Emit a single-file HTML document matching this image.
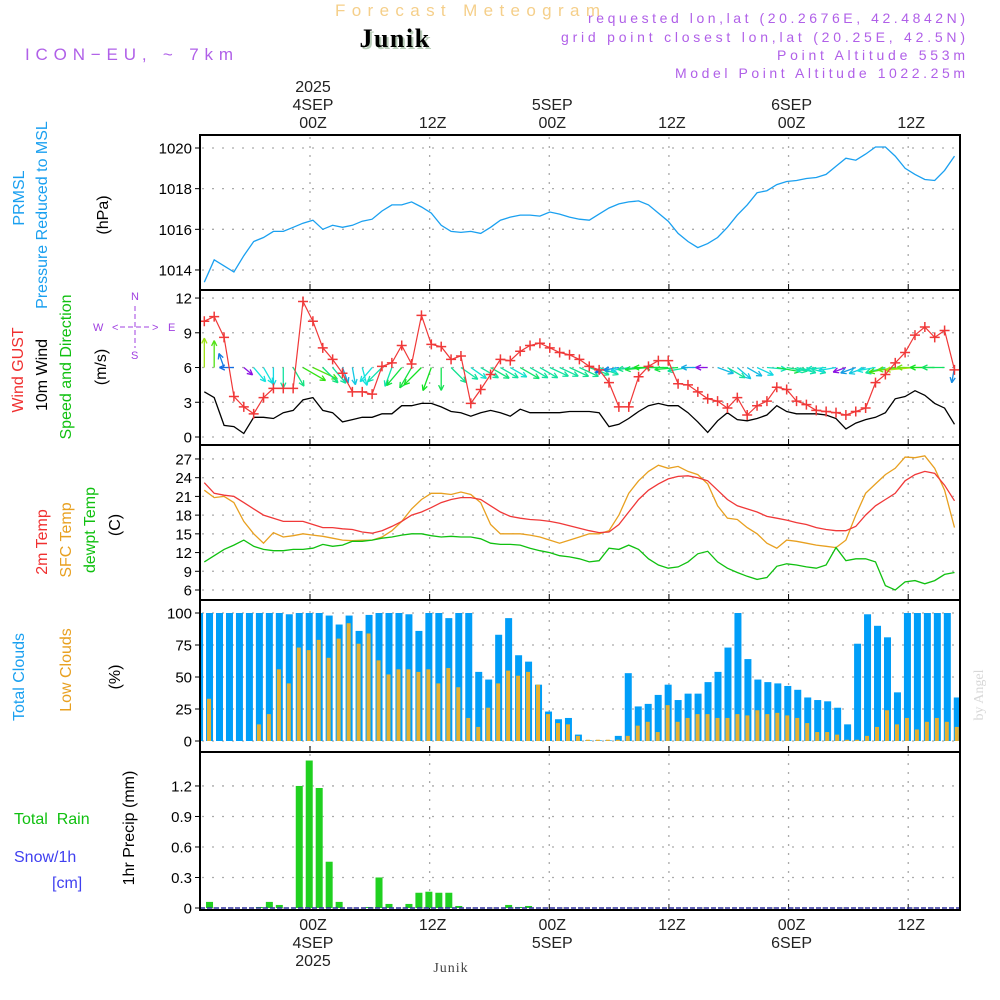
<!DOCTYPE html>
<html><head><meta charset="utf-8"><title>Forecast Meteogram Junik</title>
<style>
html,body{margin:0;padding:0;background:#fff;}
svg{display:block;font-family:"Liberation Sans",sans-serif;}
</style></head>
<body>
<svg id="chart" width="1000" height="1000" viewBox="0 0 1000 1000" xmlns="http://www.w3.org/2000/svg">
<defs><clipPath id="plotclip"><rect x="201" y="136" width="758" height="773"/></clipPath></defs>
<text x="335" y="16" font-size="17" fill="#f5cf8a" textLength="265" lengthAdjust="spacing">Forecast Meteogram</text>
<text x="397" y="49" text-anchor="middle" font-size="26" font-weight="bold" font-family="Liberation Serif, serif" fill="#b9cdb9" letter-spacing="1.5">Junik</text>
<text x="395" y="47" text-anchor="middle" font-size="26" font-weight="bold" font-family="Liberation Serif, serif" fill="#000" letter-spacing="1.5">Junik</text>
<text x="25" y="60" font-size="17" fill="#b060e8" textLength="208" lengthAdjust="spacing">ICON−EU, ~ 7km</text>
<g font-size="14" fill="#b060e8">
<text x="588" y="23" textLength="377" lengthAdjust="spacing">requested lon,lat (20.2676E, 42.4842N)</text>
<text x="561" y="42" textLength="404" lengthAdjust="spacing">grid point closest lon,lat (20.25E, 42.5N)</text>
<text x="777" y="60" textLength="188" lengthAdjust="spacing">Point Altitude 553m</text>
<text x="675" y="78" textLength="290" lengthAdjust="spacing">Model Point Altitude 1022.25m</text>
</g>
<g id="frame"></g>
<g id="grid"></g>
<g id="marks" clip-path="url(#plotclip)"></g>
<g id="axes"></g>
<g font-size="16">
<text transform="translate(24,198) rotate(-90)" text-anchor="middle" fill="#1aa0f0">PRMSL</text>
<text transform="translate(47,215) rotate(-90)" text-anchor="middle" fill="#1aa0f0">Pressure Reduced to MSL</text>
<text transform="translate(108,215) rotate(-90)" text-anchor="middle" fill="#000">(hPa)</text>
<text transform="translate(23,370) rotate(-90)" text-anchor="middle" fill="#f03030">Wind GUST</text>
<text transform="translate(47,375) rotate(-90)" text-anchor="middle" fill="#000">10m Wind</text>
<text transform="translate(71,367) rotate(-90)" text-anchor="middle" fill="#10c010">Speed and Direction</text>
<text transform="translate(106,367) rotate(-90)" text-anchor="middle" fill="#000">(m/s)</text>
<text transform="translate(47,542) rotate(-90)" text-anchor="middle" fill="#f03030">2m Temp</text>
<text transform="translate(71,540) rotate(-90)" text-anchor="middle" fill="#e8a020">SFC Temp</text>
<text transform="translate(95,530) rotate(-90)" text-anchor="middle" fill="#10c010">dewpt Temp</text>
<text transform="translate(120,525) rotate(-90)" text-anchor="middle" fill="#000">(C)</text>
<text transform="translate(24,677) rotate(-90)" text-anchor="middle" fill="#1aa0f0">Total Clouds</text>
<text transform="translate(71,670) rotate(-90)" text-anchor="middle" fill="#e8a020">Low Clouds</text>
<text transform="translate(120,677) rotate(-90)" text-anchor="middle" fill="#000">(%)</text>
<text x="14" y="824" fill="#10c010" xml:space="preserve">Total  Rain</text>
<text x="14" y="862" fill="#4040f0">Snow/1h</text>
<text x="52" y="888" fill="#4040f0">[cm]</text>
<text transform="translate(134,828) rotate(-90)" text-anchor="middle" fill="#000">1hr Precip (mm)</text>
</g>
<g font-size="11" fill="#a040e0">
<text x="131" y="300">N</text>
<text x="131" y="359">S</text>
<text x="93" y="331">W</text>
<text x="168" y="331">E</text>
<text x="112" y="331">&lt;</text>
<text x="152" y="331">&gt;</text>
<line x1="120" y1="327" x2="151" y2="327" stroke="#a040e0" stroke-dasharray="5,3"/>
<line x1="135" y1="306" x2="135" y2="348" stroke="#a040e0" stroke-dasharray="5,3"/>
</g>
<text transform="translate(983,695) rotate(-90)" text-anchor="middle" font-size="14" font-family="Liberation Serif, serif" fill="#d8d8d8">by Angel</text>
<text x="451" y="972" text-anchor="middle" font-size="14" font-family="Liberation Serif, serif" fill="#444" letter-spacing="1">Junik</text>
</svg>
<script>
const pressure = [1013.4,1014.5,1014.2,1013.9,1014.7,1015.4,1015.6,1015.9,1015.9,1016.1,1016.3,1016.45,1016.0,1016.2,1016.1,1016.2,1016.4,1016.5,1016.9,1017.2,1017.2,1017.35,1017.1,1016.8,1016.2,1015.9,1015.85,1015.9,1015.8,1016.1,1016.45,1016.6,1016.7,1016.7,1016.65,1016.85,1016.75,1016.6,1016.5,1016.45,1016.75,1017.05,1017.25,1017.35,1017.4,1017.2,1016.8,1016.4,1015.8,1015.4,1015.1,1015.3,1015.6,1016.1,1016.7,1017.2,1017.8,1017.9,1018.2,1018.35,1018.4,1018.5,1018.55,1018.7,1019.1,1019.5,1019.4,1019.7,1020.05,1020.05,1019.6,1019.0,1018.7,1018.45,1018.4,1018.9,1019.6];
const gust = [10.0,10.4,8.6,3.5,2.6,2.0,3.4,4.2,4.2,4.2,11.7,10.0,7.7,6.7,5.5,3.9,3.9,3.7,6.1,6.4,7.9,6.3,10.5,8.0,7.8,6.7,7.0,2.9,4.1,5.4,6.7,6.6,7.4,7.9,8.1,7.7,7.3,7.1,6.7,6.1,5.8,4.7,2.6,2.6,5.2,6.1,6.6,6.6,4.6,4.5,3.9,3.3,3.1,2.5,3.4,1.9,2.7,3.1,4.3,4.1,3.1,2.8,2.3,2.2,2.1,1.9,2.2,2.5,4.7,5.4,6.4,7.3,8.8,9.5,8.6,9.2,5.8];
const windSpeed = [3.9,3.4,1.0,0.9,0.3,1.7,1.7,1.6,2.1,2.3,3.2,3.4,2.3,2.1,1.3,1.5,1.7,1.7,2.0,2.0,2.7,2.7,2.9,2.9,2.6,2.2,2.1,1.8,2.1,2.3,2.1,1.8,2.4,2.1,2.1,2.1,2.1,2.2,2.2,2.2,2.1,0.9,1.1,1.6,2.2,2.7,2.9,2.7,2.7,2.1,1.3,0.4,1.4,2.1,1.5,1.4,1.6,1.9,2.7,2.2,2.0,2.0,2.0,1.9,1.6,0.7,1.2,1.5,1.7,2.1,3.3,3.5,4.0,3.6,2.9,2.5,1.1];
const windDir = [-90,-90,-110,180,40,50,60,90,90,60,30,25,45,50,70,80,75,130,135,110,130,120,135,110,90,45,35,35,30,30,30,30,30,30,30,25,25,25,25,20,20,160,170,170,175,175,180,180,175,170,180,180,20,30,40,30,25,5,10,10,15,15,170,175,170,160,160,160,170,165,170,175,175,180,180,180,100];
const temp2m = [23.2,21.5,21.2,21,20,19,18,17.5,17,17,17,16.5,16,16,15.8,15.7,15.3,15.1,15.5,16.2,17,18,18.5,19.2,20,20.5,20.8,20.8,20.5,19.5,18.5,17.8,17.5,17.3,17.2,17,16.7,16.3,15.9,15.5,15.2,15.3,16.5,18.5,20.5,22,23,23.8,24.2,24.3,24,23.5,22,20.5,19.5,19,18.5,17.8,17.5,17.2,16.8,16.5,16,15.7,15.5,15.5,16.2,18,19.5,20.5,21.5,23.5,24.5,25,24.7,22.8,20.3];
const tempSfc = [22,20.8,21,20,17,15,13.5,15.2,14.5,14.7,15,14.8,14.6,14.3,14,13.9,14,14,14.5,15.5,17,19,20.5,21.5,21.5,21.3,21.7,21.3,20,16.5,15,15,15,14.8,14.5,14,13.5,14,14.5,15,15,15.5,18,21.5,23.5,25,26,25.5,25.8,25,24.5,23,19.5,17.5,17.3,16,15,13.5,12.7,14,13.8,13.5,13.2,13,12.8,14,18,21.5,23,24.5,25.5,27.3,27.2,27.5,25.5,22,16];
const dewpt = [10.5,11.5,12.5,13.2,14,13,12.5,12.3,12.3,12.5,12.5,12.7,13.3,13,13.2,13.8,13.8,14,14.3,14.5,14.8,15,15,14.7,14.5,14.6,14.5,14.5,14.2,13.5,13.3,13.3,13.2,12.7,12.3,12,11.5,11.3,11,10.5,10.7,12.7,12.5,13.2,12.5,11,10,9.5,9.7,10.5,11.8,12.2,10.5,9.5,8.8,8.2,7.7,8,9.8,10.2,10,9.7,9.5,10,12.8,10.7,11,11,10.5,6.7,6,7.3,7.5,7,7.5,8.5,8.8];
const totalClouds = [100,100,100,100,100,100,100,100,100,99,100,100,100,98,91,98,86,98.5,100,100,100,99,86,100,100,96,100,100,54,48,83,96,67,62,44,23,17,18,5,0.5,0.5,0.5,4,53,27,29,36,44,32,37,37,46,54,73,100,64,48,46,45,43,40,34,32,31,26,13,76,99,90,81,38,100,100,100,100,100,34];
const lowClouds = [6,33,0,0,0,0,13,21,56,45,73,71,79,65,80,92,76,84,63,52,56,56,54,56,45,57,42,18,11,26,45,55,51,54,44,21,14,13,4,1,1,1,1,4,12,15,7,28,15,18,21,21,18,18,21,20,24,21,22,20,18,14,7,7,5,1,1,4,11,24,13,18,9,15,18,15,11];
const precip = [0,0.06,0,0,0,0,0.01,0.06,0.03,0,1.2,1.45,1.18,0.455,0.06,0,0,0.01,0.30,0.04,0,0.04,0.15,0.16,0.15,0.15,0.02,0,0,0,0,0.03,0.01,0.02,0,0,0,0,0,0,0,0,0,0,0,0,0,0,0,0,0,0,0,0,0,0,0,0,0,0,0,0,0,0,0,0,0,0,0,0,0,0,0,0,0,0,0];
const pressureTicks = [1014,1016,1018,1020];
const windTicks = [0,3,6,9,12];
const tempTicks = [6,9,12,15,18,21,24,27];
const cloudTicks = [0,25,50,75,100];
const precipTicks = [0,0.3,0.6,0.9,1.2];
const precipTickLabels = ["0","0.3","0.6","0.9","1.2"];
const gridHours = [0,12,24,36,48,60];
const hourLabels = ["00Z","12Z","00Z","12Z","00Z","12Z"];
const dayLabels = ["4SEP","","5SEP","","6SEP",""];

const NS="http://www.w3.org/2000/svg";
const PT0=-10.6, PDT=0.99, BT0=-12;
function xT(t){return 310+t*9.97;}
function xPt(i){return xT(PT0+i*PDT);}
function xBar(i){return xT(BT0+i)+5.7;}
function yP(p){return 148+(1020-p)*20.33;}
function yW(v){return 437-v*11.58;}
function yTm(t){return 590-(t-6)*6.24;}
function yC(c){return 741-c*1.28;}
function yR(r){return 908-r*101.7;}
function mk(parent,tag,attrs){const e=document.createElementNS(NS,tag);for(const k in attrs)e.setAttribute(k,attrs[k]);parent.appendChild(e);return e;}
const frame=document.getElementById('frame'),grid=document.getElementById('grid'),marks=document.getElementById('marks'),axes=document.getElementById('axes');

const panels=[{t:135,b:290,n:'pressure-panel'},{t:290,b:445,n:'wind-panel'},{t:445,b:600,n:'temp-panel'},{t:600,b:752,n:'cloud-panel'},{t:752,b:910,n:'precip-panel'}];
panels.forEach(p=>{
  const r=mk(frame,'rect',{x:200,y:p.t,width:760,height:p.b-p.t,fill:'none',stroke:'#000','stroke-width':2});
  
  
  gridHours.forEach(h=>{
    const l=mk(grid,'line',{x1:xT(h),x2:xT(h),y1:p.t+2,y2:p.b-2,stroke:'#aaa','stroke-dasharray':'2,7','stroke-width':1.3});
    
    
    mk(grid,'line',{x1:xT(h),x2:xT(h),y1:p.b-6,y2:p.b,stroke:'#000'});
  });
});
function yAxis(ticks,labels,yf,name){
  ticks.forEach((v,i)=>{
    const y=yf(v);
    const g=mk(grid,'line',{x1:202,x2:958,y1:y,y2:y,stroke:'#aaa','stroke-dasharray':'2,8','stroke-width':1.3});
    
    
    mk(axes,'line',{x1:195,x2:200,y1:y,y2:y,stroke:'#000'});
    const t=mk(axes,'text',{x:192,y:y+5.5,'text-anchor':'end','font-size':15,fill:'#000'});
    t.textContent=labels?labels[i]:String(v);
    
    
  });
}
yAxis(pressureTicks,null,yP,'pressure');
yAxis(windTicks,null,yW,'wind');
yAxis(tempTicks,null,yTm,'temp');
yAxis(cloudTicks,null,yC,'cloud');
yAxis(precipTicks,precipTickLabels,yR,'precip');

gridHours.forEach((h,i)=>{
  const x=xT(h)+3;
  const a=mk(axes,'text',{x:x,y:128,'text-anchor':'middle','font-size':16,fill:'#222'});a.textContent=hourLabels[i];
  
  
  const b=mk(axes,'text',{x:x,y:930,'text-anchor':'middle','font-size':16,fill:'#222'});b.textContent=hourLabels[i];
  
  
  if(dayLabels[i]){
    const c=mk(axes,'text',{x:x,y:110,'text-anchor':'middle','font-size':16,fill:'#222'});c.textContent=dayLabels[i];
    
    
    const d=mk(axes,'text',{x:x,y:948,'text-anchor':'middle','font-size':16,fill:'#222'});d.textContent=dayLabels[i];
    
    
  }
  if(i===0){
    const e=mk(axes,'text',{x:x,y:92,'text-anchor':'middle','font-size':16,fill:'#222'});e.textContent='2025';
    
    
    const f=mk(axes,'text',{x:x,y:966,'text-anchor':'middle','font-size':16,fill:'#222'});f.textContent='2025';
    
    
  }
});

function line(arr,yf,color,name,w){
  const d=arr.map((v,i)=>(i?'L':'M')+xPt(i).toFixed(1)+','+yf(v).toFixed(1)).join('');
  const p=mk(marks,'path',{d:d,fill:'none',stroke:color,'stroke-width':w||1.3});
  
  
}
totalClouds.forEach((v,i)=>{
  const r=mk(marks,'rect',{x:xBar(i),y:yC(v),width:7,height:yC(0)-yC(v),fill:'#009ef8'});
  
  
});
lowClouds.forEach((v,i)=>{
  const r=mk(marks,'rect',{x:xBar(i)+1,y:yC(v),width:4,height:yC(0)-yC(v),fill:'#e6b030'});
  
  
});
precip.forEach((v,i)=>{
  if(v<=0)return;
  const r=mk(marks,'rect',{x:xBar(i),y:yR(v),width:7,height:yR(0)-yR(v),fill:'#20d020'});
  
  
});
const snowLine=mk(marks,'line',{x1:200,x2:960,y1:yR(0),y2:yR(0),stroke:'#3030a0','stroke-dasharray':'5,2','stroke-width':1.5});


line(pressure,yP,'#1aa0f0','pressure-line',1.3);
line(tempSfc,yTm,'#e8a020','sfc-temp-line',1.3);
line(temp2m,yTm,'#f03838','temp-2m-line',1.3);
line(dewpt,yTm,'#10c010','dewpt-line',1.3);
windDir.forEach((a,i)=>{
  const s=windSpeed[i];
  const L=10+s*5;
  const x0=xPt(i),y0=yW(6);
  const rad=a*Math.PI/180;
  const x1=x0+L*Math.cos(rad),y1=y0+L*Math.sin(rad);
  const hue=s<0.8?275:Math.max(30,210-(s-1)*45);
  const col='hsl('+hue+',85%,48%)';
  const g=mk(marks,'g',{stroke:col,'stroke-width':1.3,fill:'none'});
  
  
  mk(g,'line',{x1:x0,y1:y0,x2:x1,y2:y1});
  const h=6;
  [0.45,-0.45].forEach(o=>{
    mk(g,'line',{x1:x1,y1:y1,x2:x1-h*Math.cos(rad+o),y2:y1-h*Math.sin(rad+o)});
  });
});
line(windSpeed,yW,'#000','wind-speed-line',1.3);
line(gust,yW,'#f03838','gust-line',1.2);
gust.forEach((v,i)=>{
  const x=xPt(i),y=yW(v);
  const g=mk(marks,'path',{d:'M'+(x-5)+','+y+'h10M'+x+','+(y-5)+'v10',stroke:'#f03838','stroke-width':1.5});
  
  
});
</script>
</body></html>
